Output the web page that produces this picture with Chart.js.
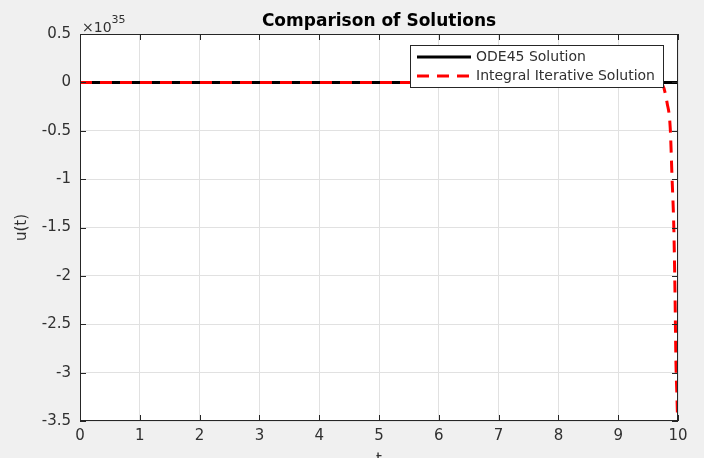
<!DOCTYPE html>
<html>
<head>
<meta charset="utf-8">
<script src="https://cdn.jsdelivr.net/npm/chart.js@4"></script>
<style>
  html, body { margin: 0; padding: 0; background: #f0f0f0; }
  #wrap { width: 704px; height: 458px; }
</style>
</head>
<body>
<div id="wrap"><canvas id="cmp" width="704" height="458"></canvas></div>
<script>
// values in units of 1e35
const odeT = [0, 10]
const odeU = [0, 0]
const iterT = [0, 9.72, 9.82, 9.87, 9.9, 9.93, 9.95, 9.965, 9.98, 9.99]
const iterU = [0, -0.01, -0.22, -0.47, -0.98, -1.5, -2.18, -2.87, -3.2, -3.42]
const seriesNames = ['ODE45 Solution', 'Integral Iterative Solution']
const yTicks = [0.5, 0, -0.5, -1, -1.5, -2, -2.5, -3, -3.5]
const xTicks = [0, 1, 2, 3, 4, 5, 6, 7, 8, 9, 10]

const FONT = "'DejaVu Sans', Arial, sans-serif"
const TXT = '#303030'

const matlabLook = {
    id: 'matlabLook',
    beforeDraw(chart) {
        const {ctx, chartArea: a} = chart
        ctx.save()
        ctx.fillStyle = '#ffffff'
        ctx.fillRect(a.left, a.top, a.right - a.left, a.bottom - a.top)
        ctx.restore()
    },
    afterDraw(chart) {
        const {ctx, chartArea: a, scales} = chart
        ctx.save()
        // box
        ctx.strokeStyle = '#262626'
        ctx.lineWidth = 1
        ctx.strokeRect(a.left + 0.5, a.top + 0.5, a.right - a.left - 1, a.bottom - a.top - 1)
        // inward ticks
        ctx.beginPath()
        xTicks.forEach(v => {
            const px = Math.round(scales.x.getPixelForValue(v)) + 0.5
            ctx.moveTo(px, a.bottom); ctx.lineTo(px, a.bottom - 6)
            ctx.moveTo(px, a.top); ctx.lineTo(px, a.top + 6)
        })
        yTicks.forEach(v => {
            const py = Math.round(scales.y.getPixelForValue(v)) + 0.5
            ctx.moveTo(a.left, py); ctx.lineTo(a.left + 6, py)
            ctx.moveTo(a.right, py); ctx.lineTo(a.right - 6, py)
        })
        ctx.stroke()

        // title
        ctx.fillStyle = '#000'
        ctx.font = 'bold 17px ' + FONT
        ctx.textAlign = 'center'
        ctx.textBaseline = 'alphabetic'
        ctx.fillText('Comparison of Solutions', 379, 26)

        // exponent
        ctx.fillStyle = TXT
        ctx.textAlign = 'left'
        ctx.font = '14px ' + FONT
        ctx.fillText('\u00d710', a.left + 2, 32)
        const w = ctx.measureText('\u00d710').width
        ctx.font = '11px ' + FONT
        ctx.fillText('35', a.left + 2 + w, 23)

        // axis labels
        ctx.font = '15px ' + FONT
        ctx.textAlign = 'center'
        ctx.textBaseline = 'top'
        ctx.fillText('t', (a.left + a.right) / 2, 453)
        ctx.save()
        ctx.translate(22, (a.top + a.bottom) / 2)
        ctx.rotate(-Math.PI / 2)
        ctx.textBaseline = 'middle'
        ctx.fillText('u(t)', 0, 0)
        ctx.restore()

        // legend
        const lx = 410, ly = 45, lw = 253, lh = 42
        ctx.fillStyle = '#ffffff'
        ctx.fillRect(lx, ly, lw, lh)
        ctx.strokeStyle = '#262626'
        ctx.lineWidth = 1
        ctx.strokeRect(lx + 0.5, ly + 0.5, lw, lh)
        ctx.lineWidth = 3
        ctx.strokeStyle = '#000'
        ctx.beginPath(); ctx.moveTo(417, 57); ctx.lineTo(471, 57); ctx.stroke()
        ctx.strokeStyle = '#ff0000'
        ctx.setLineDash([12, 8])
        ctx.beginPath(); ctx.moveTo(417, 76); ctx.lineTo(471, 76); ctx.stroke()
        ctx.setLineDash([])
        ctx.fillStyle = TXT
        ctx.font = '14px ' + FONT
        ctx.textAlign = 'left'
        ctx.textBaseline = 'middle'
        ctx.fillText(seriesNames[0], 476, 57)
        ctx.fillText(seriesNames[1], 476, 76)
        ctx.restore()
    }
}

const data = {
    datasets: [{
        label: seriesNames[1],
        data: iterT.map((t, i) => ({x: t, y: iterU[i]})),
        borderColor: '#ff0000',
        borderWidth: 3,
        borderDash: [12, 8],
        pointRadius: 0,
        tension: 0.3,
        cubicInterpolationMode: 'monotone',
        fill: false
    }, {
        label: seriesNames[0],
        data: odeT.map((t, i) => ({x: t, y: odeU[i]})),
        borderColor: '#000000',
        borderWidth: 3,
        pointRadius: 0,
        fill: false
    }]
}

const config = {
    type: 'line',
    data: data,
    options: {
        responsive: false,
        animation: false,
        layout: {padding: {top: 34, right: 26, left: 0, bottom: 0}},
        plugins: {
            legend: {display: false},
            title: {display: false},
            tooltip: {enabled: false}
        },
        scales: {
            x: {
                type: 'linear',
                min: 0,
                max: 10,
                afterBuildTicks: axis => { axis.ticks = xTicks.map(v => ({value: v})) },
                afterFit: axis => { axis.height = 37 },
                grid: {color: '#e1e1e1', drawTicks: false},
                border: {display: false},
                ticks: {color: TXT, font: {family: FONT, size: 15}, padding: 6, maxRotation: 0,
                        callback: v => String(v)}
            },
            y: {
                min: -3.5,
                max: 0.5,
                afterBuildTicks: axis => { axis.ticks = yTicks.map(v => ({value: v})) },
                afterFit: axis => { axis.width = 80 },
                grid: {color: '#e1e1e1', drawTicks: false},
                border: {display: false},
                ticks: {color: TXT, font: {family: FONT, size: 15}, padding: 9,
                        callback: v => String(v)}
            }
        }
    },
    plugins: [matlabLook]
}

new Chart(document.getElementById('cmp'), config)
</script>
</body>
</html>
